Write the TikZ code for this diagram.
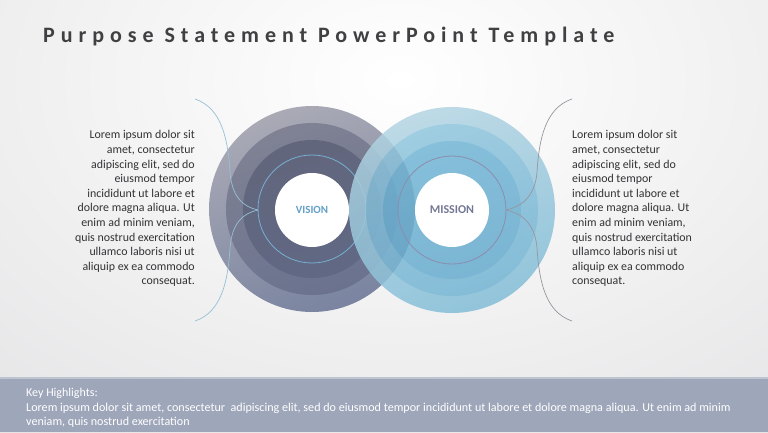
\documentclass[tikz,border=0pt]{standalone}
\usepackage{fontspec}
\setmainfont{Carlito}
\newfontfamily\titlefont[LetterSpace=27]{Carlito}
\definecolor{bgedge}{RGB}{222,222,224}
\definecolor{barcol}{RGB}{158,166,186}
\definecolor{barline}{RGB}{190,196,208}
\definecolor{titlecol}{RGB}{64,64,66}
\definecolor{bodycol}{RGB}{50,50,52}
\definecolor{lbrcol}{RGB}{150,192,212}
\definecolor{rbrcol}{RGB}{150,150,160}
\definecolor{visioncol}{RGB}{100,160,200}
\definecolor{missioncol}{RGB}{115,120,150}
\definecolor{vringcol}{RGB}{120,175,210}
\definecolor{mringcol}{RGB}{140,140,172}
\definecolor{vAa}{RGB}{170,170,182}\definecolor{vAb}{RGB}{122,132,160}
\definecolor{vBa}{RGB}{128,130,148}\definecolor{vBb}{RGB}{106,114,142}
\definecolor{vCa}{RGB}{98,102,124}\definecolor{vCb}{RGB}{96,104,132}
\definecolor{mAa}{RGB}{178,212,226}\definecolor{mAb}{RGB}{128,188,214}
\definecolor{mBa}{RGB}{142,196,220}\definecolor{mBb}{RGB}{112,178,210}
\definecolor{mCa}{RGB}{112,180,212}\definecolor{mCb}{RGB}{100,170,205}
\tikzset{
  body/.style={font=\fontsize{11.9}{14.6}\selectfont, text=bodycol, inner sep=0pt},
  lbr/.style={draw=lbrcol, line width=0.7pt},
  rbr/.style={draw=rbrcol, line width=0.7pt},
  ringline/.style={line width=0.8pt},
  whitedisc/.style={circle, fill=white, minimum size=74pt, inner sep=0pt},
}
\begin{document}
\begin{tikzpicture}[x=1pt,y=-1pt]
\useasboundingbox (0,0) rectangle (768,432);
% background
\fill[bgedge] (0,0) rectangle (768,432);
\begin{scope}
\clip (0,0) rectangle (768,432);
\shade[inner color=white, outer color=bgedge] (400,80) ellipse (820 and 560);
\end{scope}
% title
\node[anchor=west, inner sep=0pt, text=titlecol, font=\titlefont\bfseries\fontsize{22}{26}\selectfont] (title) at (43,37) {Purpose Statement PowerPoint Template};
% vision circle
\shade[top color=vAa, bottom color=vAb, shading angle=20] (312,209) circle (103);
\shade[top color=vBa, bottom color=vBb, shading angle=20] (312,209) circle (86);
\shade[top color=vCa, bottom color=vCb, shading angle=20] (312,209) circle (69);
\draw[vringcol, ringline] (312,209) circle (54);
% mission circle
\begin{scope}[transparency group, opacity=0.84]
\shade[top color=mAa, bottom color=mAb, shading angle=20] (452,210) circle (103);
\shade[top color=mBa, bottom color=mBb, shading angle=20] (452,210) circle (86);
\shade[top color=mCa, bottom color=mCb, shading angle=20] (452,210) circle (69);
\end{scope}
\draw[mringcol, ringline] (452,210) circle (54);
% white centres
\node[whitedisc, text=visioncol, font=\bfseries\fontsize{11}{13}\selectfont] (vision) at (312,210) {VISION};
\node[whitedisc, text=missioncol, font=\bfseries\fontsize{12}{14}\selectfont] (mission) at (452,210) {MISSION};
% bracket anchors
\coordinate (vl) at (258,210);
\coordinate (mr) at (506,210);
\coordinate (lt) at (195,99);
\coordinate (lb) at (195,321);
\coordinate (rt) at (572,99);
\coordinate (rb) at (572,321);
% left bracket
\draw[lbr] (lt) .. controls (222,108) and (228,140) .. (230,172) .. controls (232,198) and (244,207) .. (vl);
\draw[lbr] (lb) .. controls (222,312) and (228,280) .. (230,248) .. controls (232,222) and (244,213) .. (vl);
% right bracket
\draw[rbr] (rt) .. controls (545,108) and (539,140) .. (537,172) .. controls (535,198) and (520,207) .. (mr);
\draw[rbr] (rb) .. controls (545,312) and (539,280) .. (537,248) .. controls (535,222) and (520,213) .. (mr);
% texts
\node[body, align=right, anchor=north east] (ltext) at (195,130.5) {Lorem ipsum dolor sit\\amet, consectetur\\adipiscing elit, sed do\\eiusmod tempor\\incididunt ut labore et\\dolore magna aliqua. Ut\\enim ad minim veniam,\\quis nostrud exercitation\\ullamco laboris nisi ut\\aliquip ex ea commodo\\consequat.};
\node[body, align=left, anchor=north west] (rtext) at (572,130.5) {Lorem ipsum dolor sit\\amet, consectetur\\adipiscing elit, sed do\\eiusmod tempor\\incididunt ut labore et\\dolore magna aliqua. Ut\\enim ad minim veniam,\\quis nostrud exercitation\\ullamco laboris nisi ut\\aliquip ex ea commodo\\consequat.};
% bottom bar
\fill[barcol] (0,378) rectangle (768,432);
\fill[barline] (0,377) rectangle (768,379);
\node[anchor=west, inner sep=0pt, text=white, font=\fontsize{12}{14}\selectfont] (kh) at (26,393) {Key Highlights:};
\node[anchor=north west, inner sep=0pt, text=white, align=left, font=\fontsize{12.1}{14}\selectfont] (khtext) at (26,403) {Lorem ipsum dolor sit amet, consectetur \ adipiscing elit, sed do eiusmod tempor incididunt ut labore et dolore magna aliqua. Ut enim ad minim\\veniam, quis nostrud exercitation};
\end{tikzpicture}
\end{document}
